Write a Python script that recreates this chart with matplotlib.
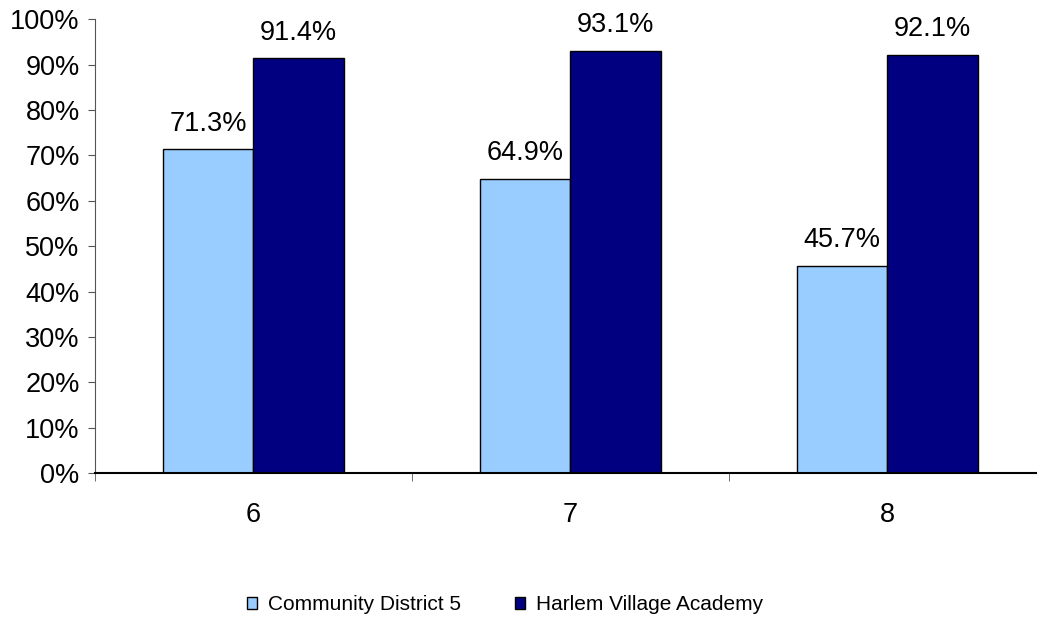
import numpy as np
import matplotlib
matplotlib.use('Agg')
import matplotlib.pyplot as plt
from matplotlib.ticker import MultipleLocator, FixedLocator, PercentFormatter

plt.rcParams['font.family'] = ['Liberation Sans', 'DejaVu Sans']

# Data.
grades = ['6', '7', '8']
district = [71.3, 64.9, 45.7]
academy = [91.4, 93.1, 92.1]
series_names = ['Community District 5', 'Harlem Village Academy']

fig = plt.figure(figsize=(10.37, 6.2), dpi=100)
ax = fig.add_axes([0.0916, 0.237, 0.917, 0.732])

x = np.arange(len(grades))
w = 0.285
b1 = ax.bar(x - w / 2, district, w, color='#99CCFF', edgecolor='black', linewidth=1, label=series_names[0])
b2 = ax.bar(x + w / 2, academy, w, color='#000080', edgecolor='black', linewidth=1, label=series_names[1])

# Data labels above bars.
for bars in (b1, b2):
    for r in bars:
        ax.text(r.get_x() + r.get_width() / 2, r.get_height() + 2.8, f'{r.get_height():.1f}%',
                ha='center', va='bottom', fontsize=19.5)

ax.set_xlim(-0.5, 2.5)
ax.set_ylim(0, 100)
ax.yaxis.set_major_locator(MultipleLocator(10))
ax.yaxis.set_major_formatter(PercentFormatter(decimals=0))
ax.set_xticks(x)
ax.set_xticklabels(grades)
ax.xaxis.set_minor_locator(FixedLocator([-0.5, 0.5, 1.5, 2.5]))
ax.tick_params(axis='x', which='major', length=0, pad=21, labelsize=19.5)
ax.tick_params(axis='x', which='minor', length=6, direction='out', color='#555555')
ax.tick_params(axis='y', length=5, direction='out', labelsize=19.5, pad=6, color='#555555')

for s in ('top', 'right'):
    ax.spines[s].set_visible(False)
ax.spines['left'].set_color('#555555')
ax.spines['bottom'].set_color('black')
ax.spines['bottom'].set_linewidth(1.5)

fig.legend(handles=[b1, b2], loc='center', bbox_to_anchor=(0.487, 0.025), ncol=2, frameon=False,
           fontsize=15, handlelength=0.5, handleheight=0.5, handletextpad=0.5, columnspacing=2.6)

fig.savefig('out.png', dpi=100)
